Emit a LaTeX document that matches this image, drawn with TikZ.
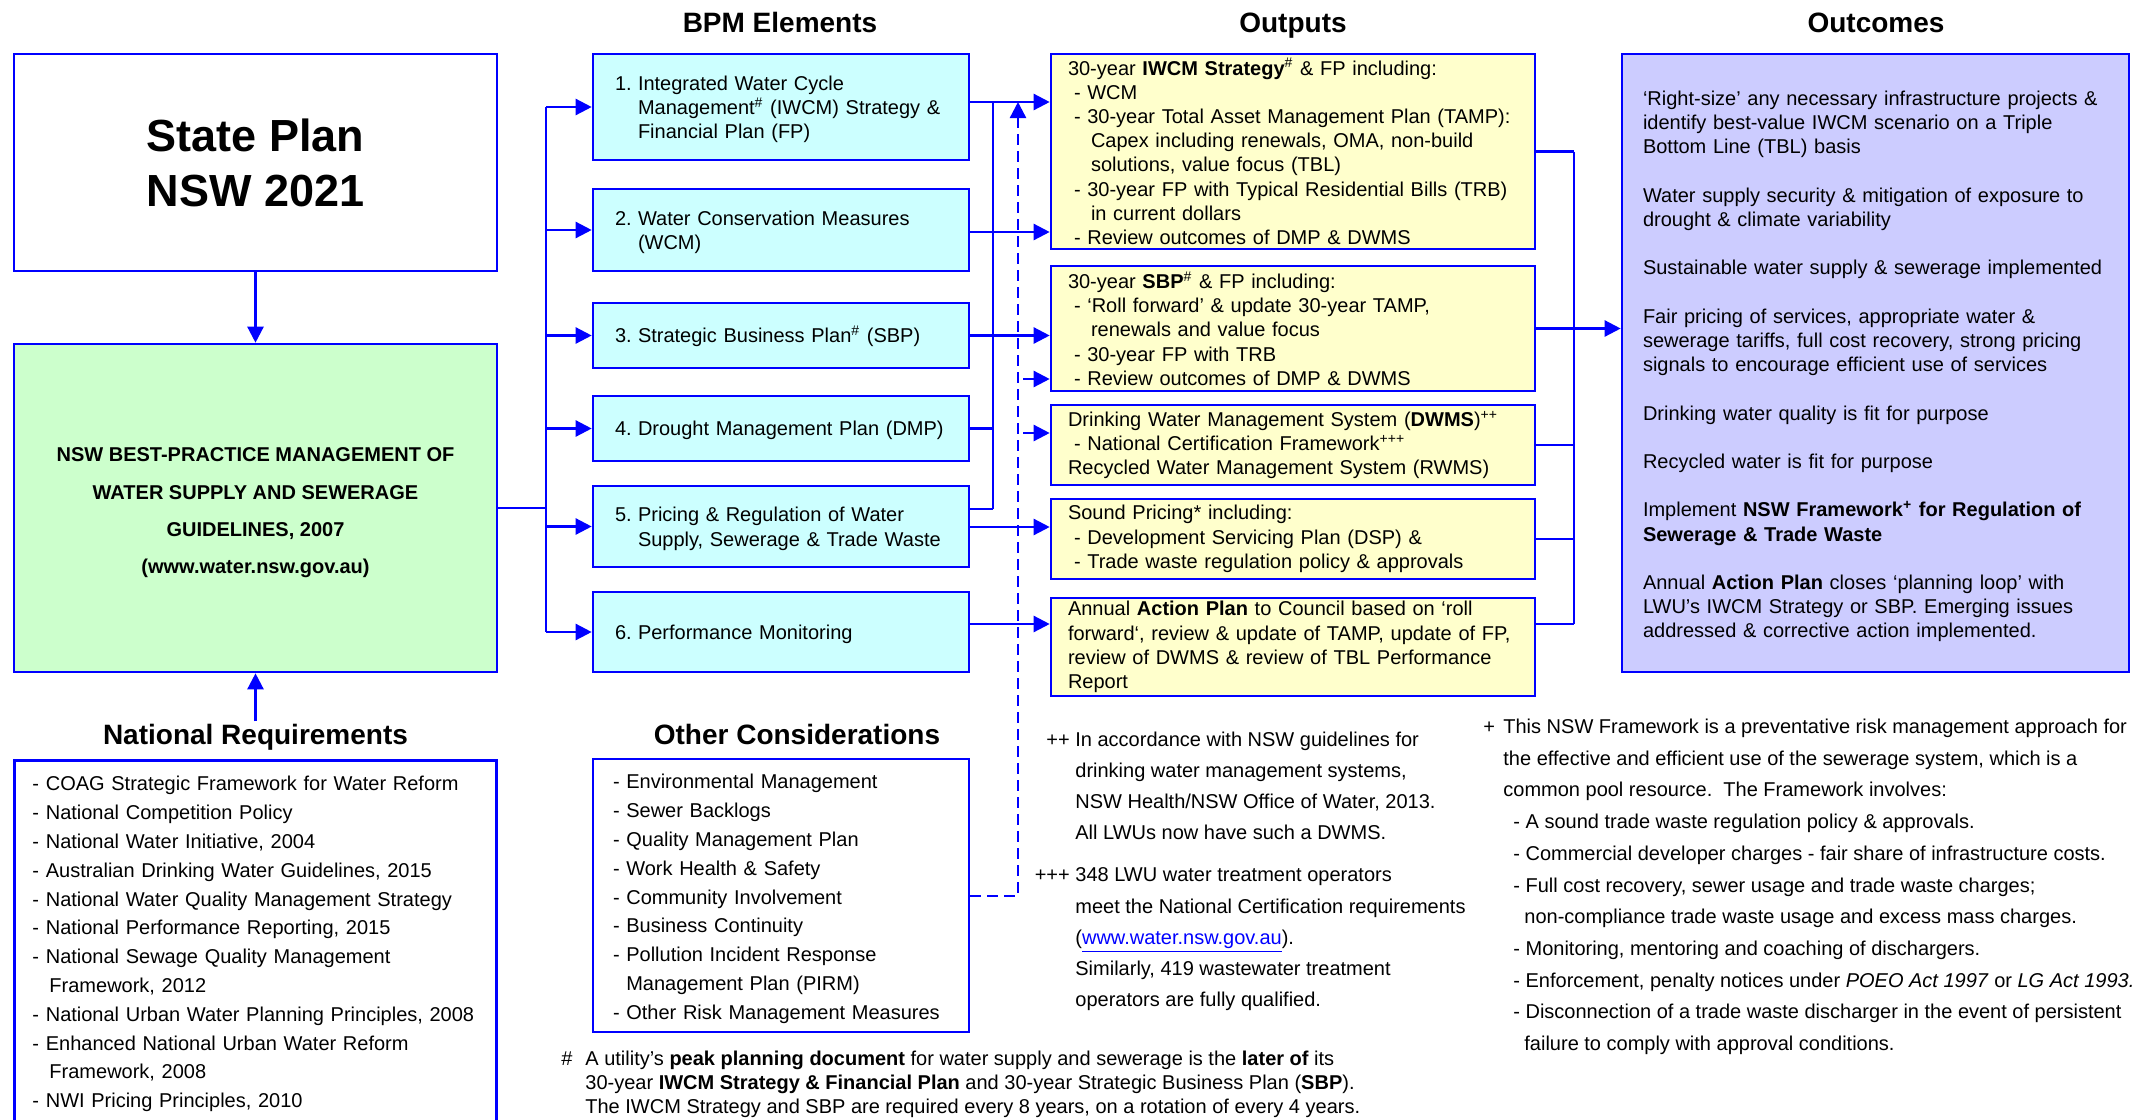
\documentclass[tikz,border=0pt]{standalone}
\usepackage{fontspec}
\setmainfont{Liberation Sans}
\usetikzlibrary{arrows.meta,positioning,calc}

\definecolor{bpmblue}{RGB}{0,0,255}
\definecolor{bpmcyan}{RGB}{204,255,255}
\definecolor{bpmgreen}{RGB}{204,255,204}
\definecolor{bpmyellow}{RGB}{255,255,204}
\definecolor{bpmlilac}{RGB}{204,204,255}

\tikzset{
  blk/.style={draw=bpmblue, line width=1.3pt, inner ysep=1pt},
  elem/.style={blk, fill=bpmcyan, text width=166pt, inner xsep=11pt, align=left, font=\fontsize{10}{12.1}\selectfont},
  outp/.style={blk, fill=bpmyellow, text width=225pt, inner xsep=8.5pt, align=left, font=\fontsize{10}{12.1}\selectfont},
  list/.style={blk, align=left, font=\fontsize{10}{14.4}\selectfont},
  head/.style={font=\fontsize{14}{16}\selectfont\bfseries, inner sep=1pt, text height=10.2pt, text depth=0pt},
  note/.style={inner sep=0pt, anchor=north west, align=left},
  link/.style={draw=bpmblue, line width=1.2pt},
  arr/.style={link, -{Triangle[length=8pt,width=8pt]}},
  dasharr/.style={arr, dash pattern=on 5.5pt off 3pt}
}

\begin{document}
\begin{tikzpicture}[x=1pt,y=-1pt]
\useasboundingbox (0,0) rectangle (1074.5,560);

\node[head] (hbpm) at (390,11.2) {BPM Elements};
\node[head] (hout) at (646.5,11.2) {Outputs};
\node[head] (hinc) at (938,11.2) {Outcomes};

\node[blk, minimum width=241.5pt, minimum height=108.5pt, align=center,
  font=\fontsize{22.5}{27.5}\selectfont\bfseries] (state) at (127.75,81.25) {State Plan\\NSW 2021};
\node[blk, fill=bpmgreen, minimum width=241.5pt, minimum height=164pt, align=center,
  font=\fontsize{10}{18.7}\selectfont\bfseries] (guide) at (127.75,254)
  {\rule{0pt}{12pt}NSW BEST-PRACTICE MANAGEMENT OF\\WATER SUPPLY AND SEWERAGE\\GUIDELINES, 2007\\(www.water.nsw.gov.au)};

\node[head] (hnat) at (127.75,367) {National Requirements};
\node[list, anchor=north, text width=223pt, inner xsep=9pt, inner ysep=8pt] (nat) at (127.75,379.5)
  {- COAG Strategic Framework for Water Reform\\
   - National Competition Policy\\
   - National Water Initiative, 2004\\
   - Australian Drinking Water Guidelines, 2015\\
   - National Water Quality Management Strategy\\
   - National Performance Reporting, 2015\\
   - National Sewage Quality Management\\
   \hspace*{8.5pt}Framework, 2012\\
   - National Urban Water Planning Principles, 2008\\
   - Enhanced National Urban Water Reform\\
   \hspace*{8.5pt}Framework, 2008\\
   - NWI Pricing Principles, 2010};

\node[head] (hoth) at (398.5,367) {Other Considerations};
\node[list, text width=168pt, inner xsep=10pt, minimum height=136.5pt] (other) at (390.5,447.75)
  {\rule{0pt}{10.7pt}- Environmental Management\\
   - Sewer Backlogs\\
   - Quality Management Plan\\
   - Work Health \& Safety\\
   - Community Involvement\\
   - Business Continuity\\
   - Pollution Incident Response\\
   \phantom{- }Management Plan (PIRM)\\
   - Other Risk Management Measures};

\node[elem, minimum height=53pt] (b1) at (390.5,53.5)
  {\rule{0pt}{9.5pt}\makebox[11.5pt][l]{1.}Integrated Water Cycle\\
   \hspace*{11.5pt}Management\textsuperscript{\#} (IWCM) Strategy \&\\
   \hspace*{11.5pt}Financial Plan (FP)};
\node[elem, minimum height=41pt] (b2) at (390.5,115)
  {\rule{0pt}{9.5pt}\makebox[11.5pt][l]{2.}Water Conservation Measures\\
   \hspace*{11.5pt}(WCM)};
\node[elem, minimum height=32.5pt] (b3) at (390.5,167.75)
  {\rule{0pt}{9.5pt}\makebox[11.5pt][l]{3.}Strategic Business Plan\textsuperscript{\#} (SBP)};
\node[elem, minimum height=32.5pt] (b4) at (390.5,214.25)
  {\rule{0pt}{9.5pt}\makebox[11.5pt][l]{4.}Drought Management Plan (DMP)};
\node[elem, minimum height=40.5pt] (b5) at (390.5,263.25)
  {\rule{0pt}{9.5pt}\makebox[11.5pt][l]{5.}Pricing \& Regulation of Water\\
   \hspace*{11.5pt}Supply, Sewerage \& Trade Waste};
\node[elem, minimum height=40pt] (b6) at (390.5,316)
  {\rule{0pt}{9.5pt}\makebox[11.5pt][l]{6.}Performance Monitoring};

\node[outp, minimum height=97.5pt] (o1) at (646.5,75.75)
  {30-year \textbf{IWCM Strategy}\textsuperscript{\#} \& FP including:\\
   \hspace*{3pt}- WCM\\
   \hspace*{3pt}- 30-year Total Asset Management Plan (TAMP):\\
   \hspace*{11.5pt}Capex including renewals, OMA, non-build\\
   \hspace*{11.5pt}solutions, value focus (TBL)\\
   \hspace*{3pt}- 30-year FP with Typical Residential Bills (TRB)\\
   \hspace*{11.5pt}in current dollars\\
   \hspace*{3pt}- Review outcomes of DMP \& DWMS};
\node[outp, minimum height=62.5pt] (o2) at (646.5,164.25)
  {30-year \textbf{SBP}\textsuperscript{\#} \& FP including:\\
   \hspace*{3pt}- ‘Roll forward’ \& update 30-year TAMP,\\
   \hspace*{11.5pt}renewals and value focus\\
   \hspace*{3pt}- 30-year FP with TRB\\
   \hspace*{3pt}- Review outcomes of DMP \& DWMS};
\node[outp, minimum height=40pt] (o3) at (646.5,222.5)
  {Drinking Water Management System (\textbf{DWMS})\textsuperscript{++}\\
   \hspace*{3pt}- National Certification Framework\textsuperscript{+++}\\
   Recycled Water Management System (RWMS)};
\node[outp, minimum height=40pt] (o4) at (646.5,269.5)
  {Sound Pricing* including:\\
   \hspace*{3pt}- Development Servicing Plan (DSP) \&\\
   \hspace*{3pt}- Trade waste regulation policy \& approvals};
\node[outp, minimum height=49pt] (o5) at (646.5,323.5)
  {Annual \textbf{Action Plan} to Council based on ‘roll\\
   forward‘, review \& update of TAMP, update of FP,\\
   review of DWMS \& review of TBL Performance\\
   Report};

\node[blk, fill=bpmlilac, text width=232.5pt, inner xsep=10.5pt, align=left, minimum height=309pt,
  font=\fontsize{10}{12.1}\selectfont] (outc) at (937.75,181.5)
  {\rule{0pt}{10.7pt}‘Right-size’ any necessary infrastructure projects \&\\
   identify best-value IWCM scenario on a Triple\\
   Bottom Line (TBL) basis\\[12.1pt]
   Water supply security \& mitigation of exposure to\\
   drought \& climate variability\\[12.1pt]
   Sustainable water supply \& sewerage implemented\\[12.1pt]
   Fair pricing of services, appropriate water \&\\
   sewerage tariffs, full cost recovery, strong pricing\\
   signals to encourage efficient use of services\\[12.1pt]
   Drinking water quality is fit for purpose\\[12.1pt]
   Recycled water is fit for purpose\\[12.1pt]
   Implement \textbf{NSW Framework\textsuperscript{+} for Regulation of}\\
   \textbf{Sewerage \& Trade Waste}\\[12.1pt]
   Annual \textbf{Action Plan} closes ‘planning loop’ with\\
   LWU’s IWCM Strategy or SBP. Emerging issues\\
   addressed \& corrective action implemented.};

\node[note, font=\fontsize{10}{15.55}\selectfont] (ppnote) at (537.5,365.8)
  {\llap{++\hspace{2.8pt}}In accordance with NSW guidelines for\\
   drinking water management systems,\\
   NSW Health/NSW Office of Water, 2013.\\
   All LWUs now have such a DWMS.\\[5.5pt]
   \llap{+++\hspace{2.8pt}}348 LWU water treatment operators\\
   meet the National Certification requirements\\
   (\textcolor{bpmblue}{\underline{www.water.nsw.gov.au}}).\\
   Similarly, 419 wastewater treatment\\
   operators are fully qualified.};

\node[note, font=\fontsize{10}{15.85}\selectfont] (plusnote) at (751.5,359.3)
  {\llap{+\hspace{4.2pt}}This NSW Framework is a preventative risk management approach for\\
   the effective and efficient use of the sewerage system, which is a\\
   common pool resource.\ \ The Framework involves:\\
   \hspace*{5pt}- A sound trade waste regulation policy \& approvals.\\
   \hspace*{5pt}- Commercial developer charges - fair share of infrastructure costs.\\
   \hspace*{5pt}- Full cost recovery, sewer usage and trade waste charges;\\
   \hspace*{10.5pt}non-compliance trade waste usage and excess mass charges.\\
   \hspace*{5pt}- Monitoring, mentoring and coaching of dischargers.\\
   \hspace*{5pt}- Enforcement, penalty notices under \textit{POEO Act 1997} or \textit{LG Act 1993.}\\
   \hspace*{5pt}- Disconnection of a trade waste discharger in the event of persistent\\
   \hspace*{10.5pt}failure to comply with approval conditions.};

\node[note, font=\fontsize{10}{12}\selectfont] (hashnote) at (292.5,525.5)
  {\llap{\#\hspace{6.5pt}}A utility’s \textbf{peak planning document} for water supply and sewerage is the \textbf{later of} its\\
   30-year \textbf{IWCM Strategy \& Financial Plan} and 30-year Strategic Business Plan (\textbf{SBP}).\\
   The IWCM Strategy and SBP are required every 8 years, on a rotation of every 4 years.};

\coordinate (trunk) at (273,0);
\coordinate (bus) at (496.5,0);
\coordinate (dash) at (509,51);
\coordinate (stub) at (511.5,0);
\coordinate (rbus) at (787,0);

\draw[arr] (state) -- (guide);
\draw[arr] (hnat) -- (guide);
\draw[link] (guide) -- (guide -| trunk);
\draw[link] (trunk |- b1) -- (trunk |- b6);
\foreach \bx in {b1,b2,b3,b4,b5,b6}
  \draw[arr] (trunk |- \bx) -- (\bx);

\draw[arr] (b1.east |- dash) -- (o1.west |- dash);
\draw[arr] (b2.east |- 0,116) -- (o1.west |- 0,116);
\draw[arr] (b3) -- (o2.west |- b3);
\draw[link] (bus |- dash) -- (bus |- 0,254.5);
\draw[link] (b4) -- (bus |- b4);
\draw[link] (b5.east |- 0,254.5) -- (bus |- 0,254.5);
\draw[arr] (b5.east |- 0,263.5) -- (o4.west |- 0,263.5);
\draw[arr] (b6.east |- 0,312) -- (o5.west |- 0,312);

\draw[dasharr] (other.east |- 0,448) -| (dash);
\draw[arr] (stub |- 0,189.5) -- (o2.west |- 0,189.5);
\draw[arr] (stub |- 0,216.5) -- (o3.west |- 0,216.5);

\draw[link] (o1) -- (rbus |- o1);
\draw[link] (rbus |- o1) -- (rbus |- 0,312);
\draw[link] (o3) -- (rbus |- o3);
\draw[link] (o4) -- (rbus |- o4);
\draw[link] (o5.east |- 0,312) -- (rbus |- 0,312);
\draw[arr] (o2) -- (outc.west |- o2);
\end{tikzpicture}
\end{document}
